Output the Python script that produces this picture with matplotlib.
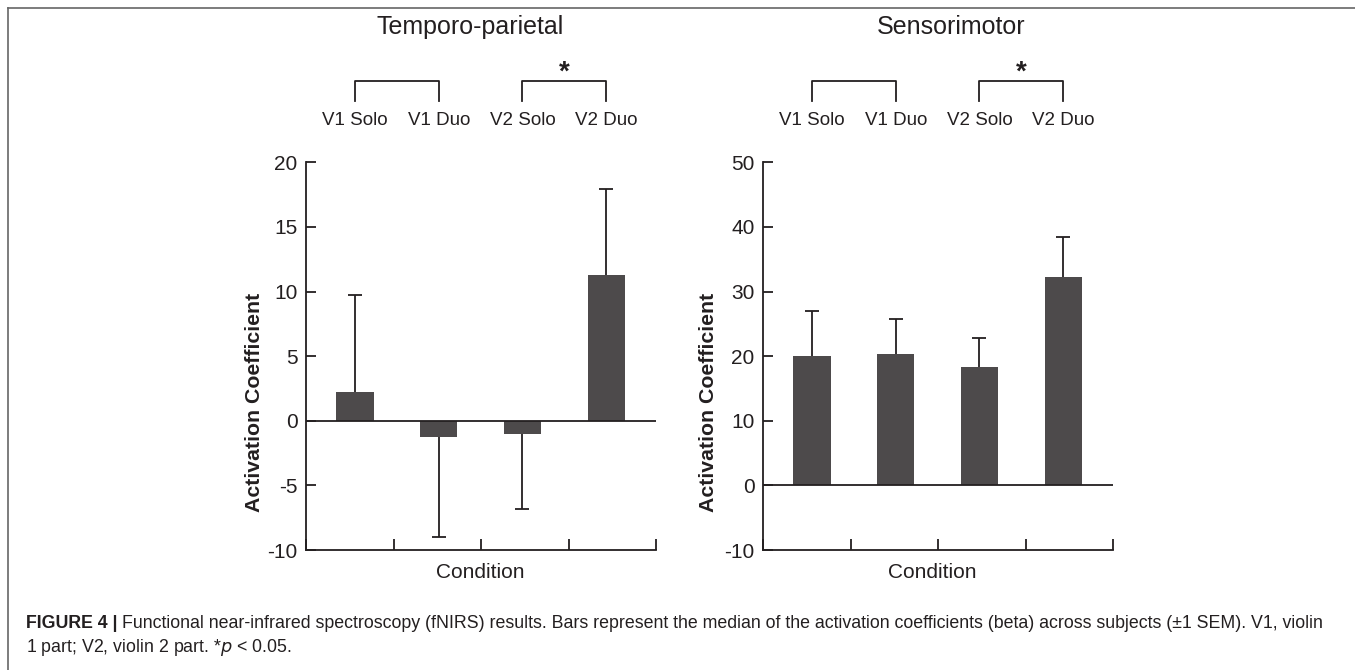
import matplotlib
matplotlib.use("Agg")
import matplotlib.pyplot as plt
import matplotlib.transforms as mtransforms
from matplotlib.lines import Line2D
import numpy as np

plt.rcParams['font.family'] = ['Liberation Sans', 'DejaVu Sans']
plt.rcParams['axes.unicode_minus'] = False

conditions = ["V1 Solo", "V1 Duo", "V2 Solo", "V2 Duo"]
tp_values = [2.2, -1.25, -1.0, 11.3]
tp_sem = [7.5, 7.75, 5.8, 6.6]
sm_values = [20.0, 20.4, 18.3, 32.3]
sm_sem = [7.0, 5.4, 4.5, 6.2]

bar_color = "#4d4a4b"
line_color = "#231f20"

fig = plt.figure(figsize=(13.55, 6.70), dpi=100)

# outer frame (top and left edge of the figure box)
fig.add_artist(Line2D([8 / 1355, 1.0], [1 - 8 / 670] * 2, color="#666666", lw=1.2))
fig.add_artist(Line2D([8 / 1355] * 2, [0.0, 1 - 8 / 670], color="#666666", lw=1.2))

panels = [
    dict(rect=[306 / 1355, 0.1791, 350 / 1355, 0.5787], vals=tp_values, sem=tp_sem,
         ylim=(-10, 20), yticks=[-10, -5, 0, 5, 10, 15, 20],
         title="Temporo-parietal", title_x=470 / 1355, ylab_x=255 / 1355, cond_x=480 / 1355),
    dict(rect=[763 / 1355, 0.1791, 350 / 1355, 0.5787], vals=sm_values, sem=sm_sem,
         ylim=(-10, 50), yticks=[-10, 0, 10, 20, 30, 40, 50],
         title="Sensorimotor", title_x=951 / 1355, ylab_x=708 / 1355, cond_x=932 / 1355),
]

xlim = (-0.585, 3.595)
x = np.arange(len(conditions))

for p in panels:
    ax = fig.add_axes(p["rect"])
    vals = np.array(p["vals"])
    sem = np.array(p["sem"])
    lower = np.where(vals < 0, sem, 0)
    upper = np.where(vals >= 0, sem, 0)
    ax.bar(x, vals, width=0.445, color=bar_color, zorder=2)
    eb = ax.errorbar(x, vals, yerr=[lower, upper], fmt="none", ecolor=line_color,
                     elinewidth=1.3, capsize=5, capthick=1.3, zorder=3)
    # keep only the cap at the far end of each error bar
    low_cap, up_cap = eb[1]
    low_cap.set_markevery([int(i) for i in np.where(lower > 0)[0]])
    up_cap.set_markevery([int(i) for i in np.where(upper > 0)[0]])
    ax.axhline(0, color=line_color, lw=1.3, zorder=4)
    ax.set_xlim(xlim)
    ax.set_ylim(p["ylim"])
    ax.set_yticks(p["yticks"])
    ax.set_xticks(np.linspace(xlim[0], xlim[1], 5))
    ax.set_xticklabels([])
    for s in ["top", "right"]:
        ax.spines[s].set_visible(False)
    for s in ["left", "bottom"]:
        ax.spines[s].set_linewidth(1.3)
        ax.spines[s].set_color(line_color)
    ax.tick_params(axis="both", direction="in", length=7, width=1.3, color=line_color,
                   labelsize=15, labelcolor="#231f20", pad=6)
    ax.tick_params(axis="x", length=8)

    fig.text(p["ylab_x"], 0.4, "Activation Coefficient", rotation=90, fontsize=15.3,
             fontweight="bold", ha="center", va="center", color="#231f20")
    fig.text(p["cond_x"], 1 - 572 / 670, "Condition", fontsize=15, ha="center",
             va="center", color="#231f20")
    fig.text(p["title_x"], 1 - 27 / 670, p["title"], fontsize=18, ha="center",
             va="center", color="#231f20")

    trans = mtransforms.blended_transform_factory(ax.transData, ax.transAxes)
    for i, lab in enumerate(conditions):
        ax.text(x[i], 1.1065, lab, transform=trans, ha="center", va="center",
                fontsize=13.5, color="#231f20")
    for a, b, star in [(0, 1, False), (2, 3, True)]:
        ax.plot([x[a], x[a], x[b], x[b]], [1.159, 1.2105, 1.2105, 1.159],
                transform=trans, color=line_color, lw=1.3, clip_on=False)
        if star:
            ax.text((x[a] + x[b]) / 2, 1.198, "*", transform=trans, ha="center",
                    va="bottom", fontsize=20, fontweight="bold", color="#231f20")

cap_y1 = 1 - 624 / 670
cap_y2 = 1 - 648 / 670
cap_size = 12.8
t = fig.text(26 / 1355, cap_y1, "FIGURE 4 |", fontsize=cap_size, fontweight="bold",
             color="#231f20", va="center")
fig.canvas.draw()
bb = t.get_window_extent()
fig.text((bb.x1 + 4) / 1355, cap_y1,
         "Functional near-infrared spectroscopy (fNIRS) results. Bars represent the median of the "
         "activation coefficients (beta) across subjects (\u00b11 SEM). V1, violin",
         fontsize=cap_size, color="#231f20", va="center")
fig.text(26 / 1355, cap_y2, "1 part; V2, violin 2 part. *$p$ < 0.05.",
         fontsize=cap_size, color="#231f20", va="center")

fig.savefig("out.png", dpi=100)
